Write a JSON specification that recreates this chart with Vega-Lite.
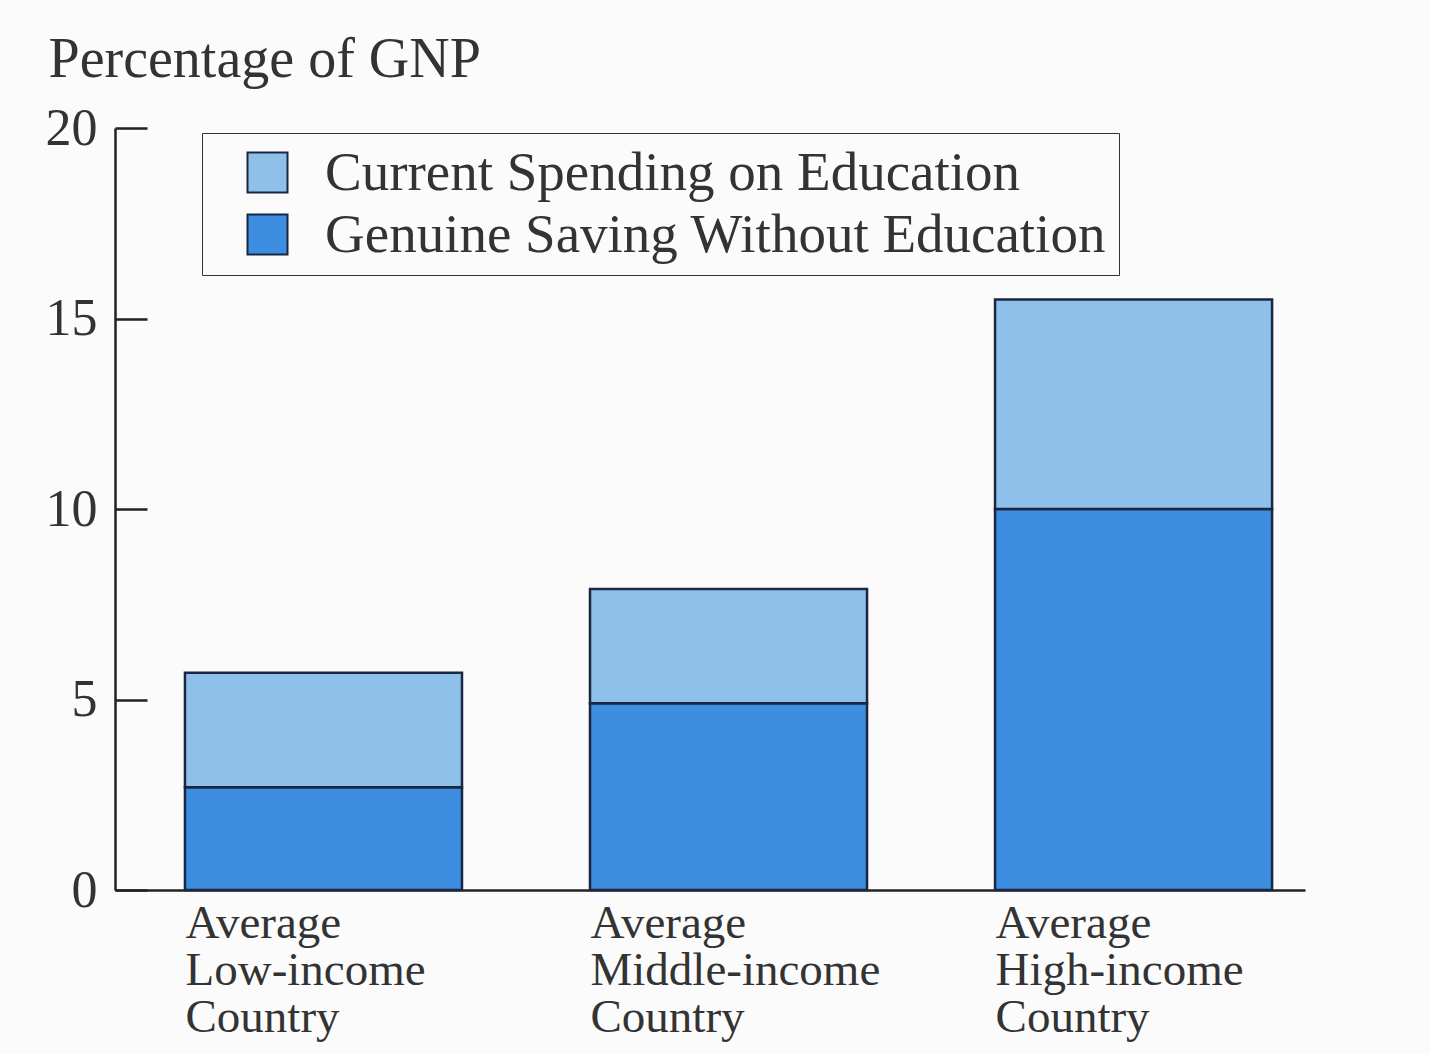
{
  "$schema": "https://vega.github.io/schema/vega-lite/v6.json",
  "autosize": "none",
  "width": 1190,
  "height": 762,
  "padding": {"left": 115, "top": 128, "right": 125, "bottom": 164},
  "background": "#fbfbfb",
  "config": {
    "view": {"stroke": null},
    "font": "Liberation Serif"
  },
  "data": {
    "values": [
      {"country": "Average Low-income Country", "series": "Genuine Saving Without Education", "value": 2.7},
      {"country": "Average Low-income Country", "series": "Current Spending on Education", "value": 3.0},
      {"country": "Average Middle-income Country", "series": "Genuine Saving Without Education", "value": 4.9},
      {"country": "Average Middle-income Country", "series": "Current Spending on Education", "value": 3.0},
      {"country": "Average High-income Country", "series": "Genuine Saving Without Education", "value": 10.0},
      {"country": "Average High-income Country", "series": "Current Spending on Education", "value": 5.5}
    ]
  },
  "mark": {"type": "bar", "stroke": "#1b2740", "strokeWidth": 2.5},
  "encoding": {
    "x": {
      "field": "country",
      "type": "nominal",
      "sort": null,
      "scale": {"paddingInner": 0.316, "paddingOuter": 0.127, "align": 0.68},
      "axis": {
        "title": null,
        "labelAngle": 0,
        "labelAlign": "left",
        "labelBaseline": "top",
        "labelPadding": 10,
        "labelOffset": -138,
        "labelBound": false,
        "labelOverlap": false,
        "labelLimit": 1000,
        "labelExpr": "split(datum.label, ' ')",
        "labelLineHeight": 47,
        "labelFontSize": 47,
        "labelColor": "#333333",
        "labelFont": "Liberation Serif",
        "ticks": false,
        "domainColor": "#222222",
        "domainWidth": 2.5
      }
    },
    "y": {
      "field": "value",
      "type": "quantitative",
      "stack": "zero",
      "scale": {"domain": [0, 20], "nice": false},
      "axis": {
        "values": [0, 5, 10, 15, 20],
        "grid": false,
        "title": "Percentage of GNP",
        "titleAngle": 0,
        "titleAlign": "left",
        "titleBaseline": "alphabetic",
        "titleX": -67,
        "titleY": -52,
        "titleFontSize": 56,
        "titleFontWeight": "normal",
        "titleColor": "#333333",
        "titleFont": "Liberation Serif",
        "labelFontSize": 52,
        "labelColor": "#333333",
        "labelFont": "Liberation Serif",
        "tickSize": -32,
        "tickWidth": 2.5,
        "tickColor": "#222222",
        "labelPadding": 50,
        "domainColor": "#222222",
        "domainWidth": 2.5
      }
    },
    "color": {
      "field": "series",
      "type": "nominal",
      "scale": {
        "domain": ["Current Spending on Education", "Genuine Saving Without Education"],
        "range": ["#8fc0ea", "#3d8de1"]
      },
      "legend": {
        "title": null,
        "orient": "none",
        "legendX": 87,
        "legendY": 5,
        "direction": "vertical",
        "strokeColor": "#333333",
        "fillColor": "#fbfbfb",
        "padding": 12,
        "symbolType": "square",
        "symbolSize": 1600,
        "symbolStrokeColor": "#1b2740",
        "symbolStrokeWidth": 2,
        "symbolOffset": 26,
        "labelOffset": 30,
        "labelFontSize": 55,
        "labelFont": "Liberation Serif",
        "labelColor": "#333333",
        "labelLimit": 1200,
        "rowPadding": 6
      }
    },
    "order": {"field": "series", "sort": "descending"}
  }
}
